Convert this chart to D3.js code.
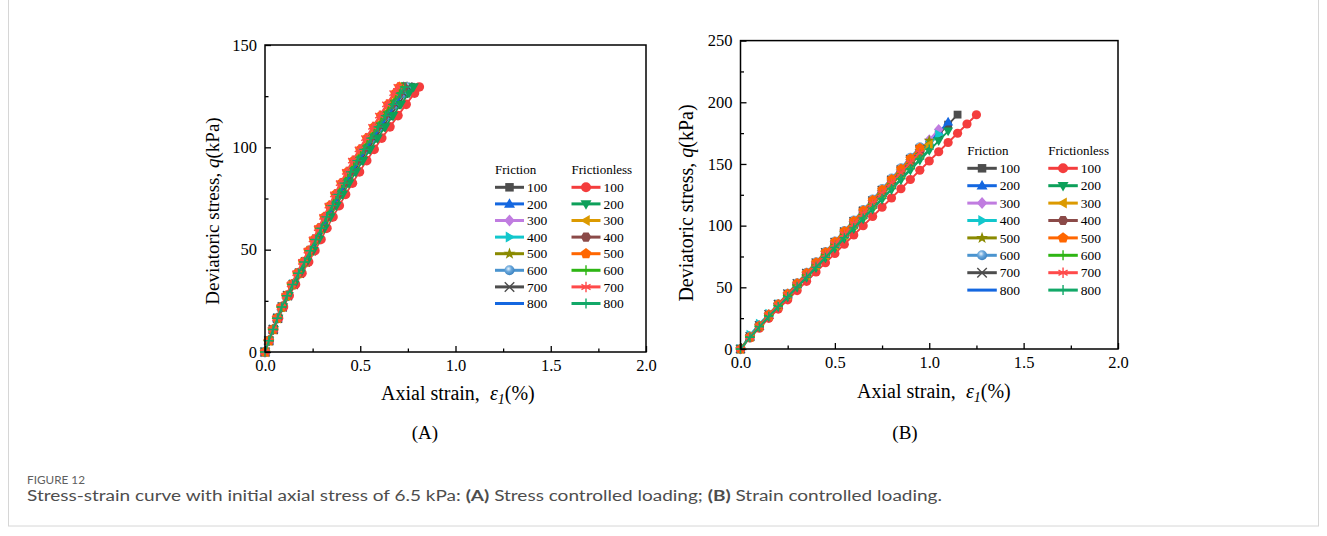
<!DOCTYPE html>
<html><head><meta charset="utf-8">
<script src="https://cdn.jsdelivr.net/npm/d3@7"></script>
<style>body{margin:0;background:#fff;} svg{display:block;}</style>
</head><body>
<svg id="c" width="1327" height="536"></svg>
<script>
// ---------------- DATA ----------------
const seriesNames = ["100","200","300","400","500","600","700","800"];
const groupNames = ["Friction","Frictionless"];
const xTickValues = [0, 0.5, 1.0, 1.5, 2.0];
const yTickValuesA = [0, 50, 100, 150];
const yTickValuesB = [0, 50, 100, 150, 200, 250];

// (A) stress controlled: deviatoric stress levels shared by every series (kPa)
const qA = [0,5.5,11,16.5,22,27.5,33,38.5,44,49.5,55,60.5,66,71.5,77,82.5,88,93.5,99,104.5,110,115.5,121,126.5,129.5];
// (A) axial strain (%) at each stress level
const strainA_F100 = [0,.02,.044,.067,.092,.12,.151,.184,.216,.248,.277,.307,.338,.368,.4,.434,.468,.504,.542,.579,.619,.659,.7,.742,.765];
const strainA_F200 = [0,.02,.043,.065,.089,.117,.147,.178,.21,.241,.269,.298,.328,.357,.388,.421,.454,.489,.526,.562,.601,.64,.679,.72,.743];
const strainA_F300 = [0,.019,.042,.064,.087,.114,.144,.175,.206,.236,.264,.292,.321,.35,.38,.412,.445,.479,.515,.551,.589,.627,.665,.705,.728];
const strainA_F400 = [0,.02,.042,.065,.088,.116,.145,.176,.208,.238,.267,.295,.324,.354,.384,.417,.45,.484,.52,.557,.595,.633,.672,.712,.735];
const strainA_F500 = [0,.02,.043,.066,.09,.117,.147,.179,.211,.242,.271,.3,.329,.359,.39,.423,.457,.491,.528,.565,.604,.643,.683,.723,.746];
const strainA_F600 = [0,.02,.043,.066,.09,.118,.148,.18,.212,.243,.272,.301,.331,.361,.392,.425,.459,.494,.531,.568,.607,.646,.686,.727,.75];
const strainA_F700 = [0,.02,.043,.066,.09,.118,.148,.18,.212,.243,.272,.301,.331,.361,.392,.425,.459,.494,.531,.568,.607,.646,.686,.727,.75];
const strainA_F800 = [0,.02,.043,.066,.09,.118,.148,.18,.212,.243,.272,.301,.331,.361,.392,.425,.459,.494,.531,.568,.607,.646,.686,.727,.75];
const strainA_FL100 = [0,.022,.046,.071,.097,.127,.16,.194,.229,.262,.294,.325,.357,.39,.423,.459,.496,.534,.573,.613,.656,.698,.741,.785,.81];
const strainA_FL200 = [0,.021,.045,.069,.094,.123,.154,.187,.22,.253,.283,.313,.344,.375,.408,.442,.477,.514,.552,.591,.631,.672,.713,.756,.78];
const strainA_FL300 = [0,.019,.041,.063,.086,.113,.142,.173,.204,.233,.261,.289,.318,.347,.376,.408,.441,.474,.51,.545,.583,.62,.659,.698,.72];
const strainA_FL400 = [0,.019,.042,.064,.087,.114,.144,.175,.206,.236,.264,.292,.321,.35,.38,.412,.445,.479,.515,.551,.589,.627,.665,.705,.728];
const strainA_FL500 = [0,.019,.04,.062,.085,.111,.139,.169,.199,.228,.256,.283,.311,.339,.368,.4,.431,.464,.499,.534,.571,.607,.645,.683,.705];
const strainA_FL600 = [0,.019,.041,.063,.086,.113,.142,.173,.204,.233,.261,.289,.318,.347,.376,.408,.441,.474,.51,.545,.583,.62,.659,.698,.72];
const strainA_FL700 = [0,.019,.04,.061,.084,.11,.138,.167,.197,.226,.253,.28,.308,.336,.365,.395,.427,.459,.494,.528,.565,.601,.638,.676,.698];
const strainA_FL800 = [0,.02,.042,.065,.088,.116,.145,.176,.208,.238,.267,.295,.324,.354,.384,.417,.45,.484,.52,.557,.595,.633,.672,.712,.735];

// (B) strain controlled: axial strain levels shared by every series (%)
const strainB = [0,0.05,0.10,0.15,0.20,0.25,0.30,0.35,0.40,0.45,0.50,0.55,0.60,0.65,0.70,0.75,0.80,0.85,0.90,0.95,1.00,1.05,1.10,1.15,1.20,1.25];
// (B) deviatoric stress (kPa) at each strain level
const qB_F100 = [0,9.7,18.3,27,35.2,43.3,51.5,59.6,67.8,75.9,84.1,92.2,100.4,108.5,116.7,124.8,133,141.1,149.3,157.4,165.6,173.7,181.9,190.0];
const qB_F200 = [0,9.8,18.6,27.3,35.6,43.8,52.1,60.3,68.6,76.8,85.1,93.3,101.6,109.8,118.1,126.3,134.5,142.8,151.0,159.3,167.5,175.8,184.0];
const qB_F300 = [0,9.9,18.8,27.7,36.0,44.4,52.7,61.1,69.4,77.8,86.1,94.5,102.8,111.2,119.5,127.9,136.2,144.6,153.0,161.3,169.7,178.0];
const qB_F400 = [0,11.5,20.5,28.5,36.2,43.9,51.8,59.7,67.8,76.0,84.2,92.3,100.5,108.6,116.8,125.0,133.1,141.3,149.4,157.6,165.8,173.9];
const qB_F500 = [0,9.9,18.7,27.6,35.9,44.2,52.5,60.8,69.2,77.5,85.8,94.1,102.4,110.8,119.1,127.4,135.7,144.0,152.4,160.7,169.0];
const qB_F600 = [0,10.1,19.1,28.1,36.6,45.1,53.6,62.1,70.6,79.0,87.5,96.0,104.5,113.0,121.5,130.0,138.5,146.9,155.4,163.9];
const qB_F700 = [0,10.0,18.9,27.8,36.2,44.6,53.0,61.4,69.8,78.2,86.5,94.9,103.3,111.7,120.1,128.5,136.9,145.3,153.7,162.1];
const qB_F800 = [0,9.9,18.8,27.7,36.1,44.4,52.8,61.1,69.5,77.9,86.2,94.6,102.9,111.3,119.7,128.0,136.4,144.7,153.1,161.5];
const qB_FL100 = [0,8.9,16.9,24.9,32.4,39.9,47.4,54.9,62.4,69.9,77.4,84.9,92.4,99.9,107.4,114.9,122.4,129.9,137.4,144.9,152.4,159.9,167.4,174.9,182.4,189.9];
const qB_FL200 = [0,9.4,17.8,26.2,34.2,42.1,50.0,57.9,65.8,73.8,81.7,89.6,97.5,105.4,113.4,121.3,129.2,137.1,145.0,153.0,160.9,168.8,176.7];
const qB_FL300 = [0,9.7,18.4,27.0,35.2,43.4,51.5,59.7,67.8,76.0,84.2,92.3,100.5,108.6,116.8,125.0,133.1,141.3,149.4,157.6,165.8];
const qB_FL400 = [0,9.8,18.6,27.5,35.7,44.0,52.3,60.6,68.9,77.2,85.5,93.8,102.0,110.3,118.6,126.9,135.2,143.5,151.8,160.1];
const qB_FL500 = [0,10.0,19.0,28.0,36.4,44.8,53.3,61.7,70.2,78.6,87.0,95.5,103.9,112.4,120.8,129.2,137.7,146.1,154.6,163.0];
const qB_FL600 = [0,9.7,18.4,27.1,35.3,43.5,51.7,59.8,68.0,76.2,84.4,92.6,100.8,108.9,117.1,125.3,133.5,141.7,149.9,158.1];
const qB_FL700 = [0,9.8,18.5,27.3,35.5,43.8,52.0,60.3,68.5,76.7,85.0,93.2,101.5,109.7,117.9,126.2,134.4,142.7,150.9,159.1];
const qB_FL800 = [0,9.5,17.9,26.4,34.4,42.4,50.3,58.3,66.3,74.3,82.3,90.2,98.2,106.2,114.2,122.1,130.1,138.1,146.1,154.0,162.0];

// ---------------- STYLES ----------------
const frictionStyle = [
  {color:"#4d4d4d", marker:"square"},
  {color:"#1467e0", marker:"triUp"},
  {color:"#c07ce0", marker:"diamond"},
  {color:"#12c7cc", marker:"triRight"},
  {color:"#8a8a00", marker:"star"},
  {color:"#4a94cf", marker:"ball"},
  {color:"#4d4d4d", marker:"x"},
  {color:"#1467e0", marker:"none"}
];
const frictionlessStyle = [
  {color:"#f43d3d", marker:"circle"},
  {color:"#0da05a", marker:"triDown"},
  {color:"#dc9a00", marker:"triLeft"},
  {color:"#8b4a48", marker:"hexagon"},
  {color:"#ff6600", marker:"pentagon"},
  {color:"#2eb514", marker:"plus"},
  {color:"#ff4a4a", marker:"asterisk"},
  {color:"#12a868", marker:"plus"}
];

const seriesA = [
  strainA_F100,strainA_F200,strainA_F300,strainA_F400,strainA_F500,strainA_F600,strainA_F700,strainA_F800,
  strainA_FL100,strainA_FL200,strainA_FL300,strainA_FL400,strainA_FL500,strainA_FL600,strainA_FL700,strainA_FL800
].map(arr => arr.map((e,i)=>[e, qA[i]]));
const seriesB = [
  qB_F100,qB_F200,qB_F300,qB_F400,qB_F500,qB_F600,qB_F700,qB_F800,
  qB_FL100,qB_FL200,qB_FL300,qB_FL400,qB_FL500,qB_FL600,qB_FL700,qB_FL800
].map(arr => arr.map((q,i)=>[strainB[i], q]));
const styles = frictionStyle.concat(frictionlessStyle);

// ---------------- DRAW ----------------
const svg = d3.select("#c");
const SERIF = "'Liberation Serif','Times New Roman',serif";

const defs = svg.append("defs");
const grad = defs.append("radialGradient").attr("id","ballGrad").attr("cx","40%").attr("cy","35%").attr("r","65%");
grad.append("stop").attr("offset","0%").attr("stop-color","#e8f3fc");
grad.append("stop").attr("offset","45%").attr("stop-color","#6aa8dc");
grad.append("stop").attr("offset","100%").attr("stop-color","#3b82c0");

// outer frame of the figure panel
svg.append("rect").attr("x",8.5).attr("y",-1).attr("width",1310).attr("height",527)
  .attr("fill","none").attr("stroke","#d6d6d6").attr("stroke-width",1);

function markerPath(type, r){
  const p = d3.path();
  if(type==="square"){ const s=r*0.85; p.rect(-s,-s,2*s,2*s); }
  else if(type==="circle"||type==="ball"){ p.moveTo(r,0); p.arc(0,0,r,0,2*Math.PI); }
  else if(type==="triUp"){ p.moveTo(0,-r*1.15); p.lineTo(r*1.1,r*0.75); p.lineTo(-r*1.1,r*0.75); p.closePath(); }
  else if(type==="triDown"){ p.moveTo(0,r*1.15); p.lineTo(r*1.1,-r*0.75); p.lineTo(-r*1.1,-r*0.75); p.closePath(); }
  else if(type==="triRight"){ p.moveTo(r*1.15,0); p.lineTo(-r*0.75,r*1.1); p.lineTo(-r*0.75,-r*1.1); p.closePath(); }
  else if(type==="triLeft"){ p.moveTo(-r*1.15,0); p.lineTo(r*0.75,r*1.1); p.lineTo(r*0.75,-r*1.1); p.closePath(); }
  else if(type==="diamond"){ p.moveTo(0,-r*1.2); p.lineTo(r*1.05,0); p.lineTo(0,r*1.2); p.lineTo(-r*1.05,0); p.closePath(); }
  else if(type==="star"){
    for(let k=0;k<10;k++){ const a=-Math.PI/2+k*Math.PI/5; const rr=(k%2===0)?r*1.25:r*0.5;
      const x=rr*Math.cos(a), y=rr*Math.sin(a); if(k===0)p.moveTo(x,y); else p.lineTo(x,y); }
    p.closePath();
  }
  else if(type==="hexagon"){
    for(let k=0;k<6;k++){ const a=k*Math.PI/3; const x=r*1.05*Math.cos(a), y=r*1.05*Math.sin(a); if(k===0)p.moveTo(x,y); else p.lineTo(x,y);} p.closePath();
  }
  else if(type==="pentagon"){
    for(let k=0;k<5;k++){ const a=-Math.PI/2+k*2*Math.PI/5; const x=r*1.12*Math.cos(a), y=r*1.12*Math.sin(a); if(k===0)p.moveTo(x,y); else p.lineTo(x,y);} p.closePath();
  }
  else if(type==="x"){ const s=r*0.95; p.moveTo(-s,-s); p.lineTo(s,s); p.moveTo(-s,s); p.lineTo(s,-s); }
  else if(type==="plus"){ const s=r*1.0; p.moveTo(0,-s); p.lineTo(0,s); p.moveTo(-s,0); p.lineTo(s,0); }
  else if(type==="asterisk"){ const s=r*1.05; for(let k=0;k<3;k++){const a=Math.PI/2+k*Math.PI/3; p.moveTo(-s*Math.cos(a),-s*Math.sin(a)); p.lineTo(s*Math.cos(a),s*Math.sin(a));} }
  return p.toString();
}
const strokeMarkers = new Set(["x","plus","asterisk"]);

function drawMarker(g, type, color, x, y, r){
  if(type==="none") return;
  const path = g.append("path").attr("d", markerPath(type, r)).attr("transform",`translate(${x},${y})`);
  if(strokeMarkers.has(type)) path.attr("fill","none").attr("stroke",color).attr("stroke-width",1.4);
  else if(type==="ball") path.attr("fill","url(#ballGrad)");
  else path.attr("fill",color);
}

function drawPanel(cfg){
  const x = d3.scaleLinear().domain([0,2]).range([cfg.x0, cfg.x1]);
  const y = d3.scaleLinear().domain([0,cfg.ymax]).range([cfg.y0, cfg.y1]);
  const g = svg.append("g");

  // data
  const plot = g.append("g");
  const line = d3.line().x(d=>x(d[0])).y(d=>y(d[1]));
  cfg.series.forEach((s,i)=>{
    const st = styles[i];
    const sg = plot.append("g");
    sg.append("path").attr("d", line(s)).attr("fill","none").attr("stroke",st.color).attr("stroke-width",1.8);
    s.forEach(d=> drawMarker(sg, st.marker, st.color, x(d[0]), y(d[1]), cfg.r));
  });

  // axes (inward ticks)
  const xMinor = [0.25,0.75,1.25,1.75];
  const yMinor = cfg.yMinor;
  const axB = d3.axisBottom(x).tickValues(xTickValues).tickSize(-6).tickPadding(7).tickFormat(d3.format(".1f"));
  const axBm = d3.axisBottom(x).tickValues(xMinor).tickSize(-3.5).tickFormat("");
  const axL = d3.axisLeft(y).tickValues(cfg.yTicks).tickSize(-6).tickPadding(8).tickFormat(d3.format("d"));
  const axLm = d3.axisLeft(y).tickValues(yMinor).tickSize(-3.5).tickFormat("");
  [[axB,true],[axBm,true],[axL,false],[axLm,false]].forEach(([ax,isX])=>{
    const ag = g.append("g").attr("transform", isX?`translate(0,${cfg.y0})`:`translate(${cfg.x0},0)`).call(ax);
    ag.select(".domain").remove();
    ag.selectAll("line").attr("stroke","#000").attr("stroke-width",1.3);
    ag.selectAll("text").attr("font-family",SERIF).attr("font-size",16.5).attr("fill","#000");
  });
  // frame
  g.append("rect").attr("x",cfg.x0).attr("y",cfg.y1).attr("width",cfg.x1-cfg.x0).attr("height",cfg.y0-cfg.y1)
    .attr("fill","none").attr("stroke","#000").attr("stroke-width",1.5);

  // y title
  const yt = g.append("text").attr("font-family",SERIF).attr("font-size",cfg.ytSize).attr("fill","#000")
    .attr("text-anchor","middle").attr("transform",`translate(${cfg.ytX},${cfg.ytY}) rotate(-90)`).attr("dy","0.35em");
  yt.append("tspan").text("Deviatoric stress, ");
  yt.append("tspan").attr("font-style","italic").text("q");
  yt.append("tspan").text("(kPa)");

  // x title
  const xt = g.append("text").attr("font-family",SERIF).attr("font-size",cfg.xtSize).attr("fill","#000")
    .attr("x",cfg.xtX).attr("y",cfg.xtY).attr("xml:space","preserve");
  xt.append("tspan").text("Axial strain,  ");
  xt.append("tspan").attr("font-style","italic").text("ε");
  xt.append("tspan").attr("font-style","italic").attr("font-size",cfg.xtSize*0.7).attr("dy",4).text("1");
  xt.append("tspan").attr("dy",-4).text("(%)");

  // panel label
  g.append("text").attr("font-family",SERIF).attr("font-size",19).attr("fill","#000")
    .attr("text-anchor","middle").attr("x",cfg.labX).attr("y",cfg.labY).text(cfg.label);

  // legend
  const L = cfg.legend;
  const lg = g.append("g");
  groupNames.forEach((gn,gi)=>{
    const lx = gi===0 ? L.x1 : L.x2;
    lg.append("text").attr("x",lx).attr("y",L.headY).attr("font-family",SERIF).attr("font-size",13).attr("fill","#000").text(gn);
    seriesNames.forEach((sn,si)=>{
      const st = styles[gi*8+si];
      const yy = L.rowY0 + si*L.dy;
      lg.append("line").attr("x1",lx).attr("x2",lx+L.lineW).attr("y1",yy).attr("y2",yy)
        .attr("stroke",st.color).attr("stroke-width",3);
      drawMarker(lg, st.marker, st.color, lx+L.lineW/2, yy, 5);
      lg.append("text").attr("x",lx+L.lineW+3).attr("y",yy).attr("dy","0.35em")
        .attr("font-family",SERIF).attr("font-size",13.5).attr("fill","#000").text(sn);
    });
  });
}

drawPanel({
  x0:265, x1:646, y0:352, y1:45, ymax:150, yTicks:yTickValuesA, yMinor:[25,75,125],
  series:seriesA, r:4.8,
  ytX:212, ytY:211, ytSize:19, xtX:381, xtY:400, xtSize:20,
  labX:425, labY:439, label:"(A)",
  legend:{x1:495, x2:571.5, headY:174, rowY0:187.3, dy:16.6, lineW:29}
});
drawPanel({
  x0:740.5, x1:1118, y0:349, y1:40.6, ymax:250, yTicks:yTickValuesB, yMinor:[25,75,125,175,225],
  series:seriesB, r:4.6,
  ytX:686, ytY:203, ytSize:20, xtX:857, xtY:398, xtSize:20,
  labX:905, labY:439, label:"(B)",
  legend:{x1:967.3, x2:1048.3, headY:155, rowY0:168.3, dy:17.4, lineW:29.5}
});

// caption
const SANS = "'Lato','Open Sans','Noto Sans',sans-serif";
svg.append("text").attr("x",27).attr("y",483.5).attr("font-family",SANS).attr("font-size",11.5)
  .attr("fill","#5f5f5f").attr("textLength",58).attr("lengthAdjust","spacingAndGlyphs").text("FIGURE 12");
const cap = svg.append("text").attr("x",27).attr("y",501).attr("font-family",SANS).attr("font-size",15.5).attr("fill","#4d4d4d");
cap.append("tspan").text("Stress-strain curve with initial axial stress of 6.5 kPa: ");
cap.append("tspan").attr("font-weight","bold").text("(A)");
cap.append("tspan").text(" Stress controlled loading; ");
cap.append("tspan").attr("font-weight","bold").text("(B)");
cap.append("tspan").text(" Strain controlled loading.");
cap.attr("textLength",915).attr("lengthAdjust","spacingAndGlyphs");
</script>
</body></html>
